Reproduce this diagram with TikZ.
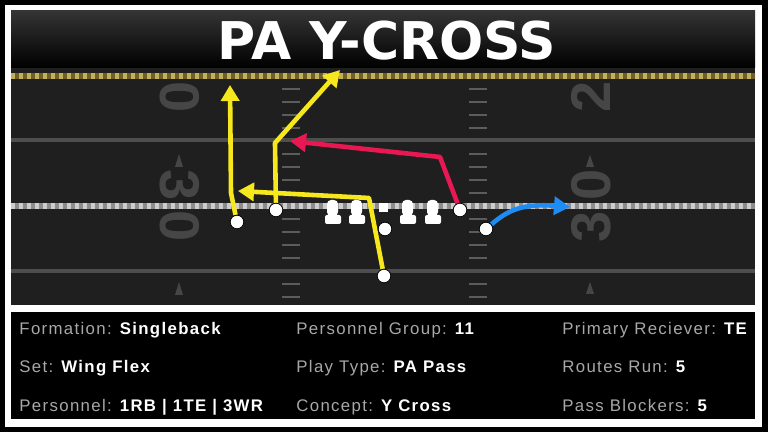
\documentclass[tikz,border=0pt]{standalone}
\usepackage{fontspec}
\setmainfont{Liberation Sans}
\newfontfamily\titlefont{DejaVu Sans}
\newfontfamily\infofont[LetterSpace=8]{Liberation Sans}
\usetikzlibrary{
  arrows.meta
}
\pgfdeclarelayer{front}
\pgfsetlayers{main,front}
\definecolor{field gray}{RGB}{31,31,31}
\definecolor{header gray}{RGB}{52,52,52}
\definecolor{line gray}{RGB}{78,78,78}
\definecolor{number gray}{RGB}{70,70,70}
\definecolor{hash gray}{RGB}{92,92,92}
\definecolor{info gray}{RGB}{168,168,168}
\definecolor{route yellow}{RGB}{246,232,28}
\definecolor{route red}{RGB}{234,24,82}
\definecolor{route blue}{RGB}{30,140,242}
\newcommand\infoval[1]{\textcolor{white}{\bfseries #1}}
\tikzset{
%
  % For the receivers' routes.
  route/.style={
    line width=2.3pt,
    line join=round,
    draw=route yellow,
    -{Triangle[length=8pt,
               width=9pt]}},
%
  % For the players.
  player/.style={
    circle,
    fill=white,
    draw=black,
    line width=0.4pt,
    inner sep=0pt,
    minimum size=6.8pt},
%
  % For the yard numbers on the field.
  yard number/.style={
    text=number gray,
    inner sep=0pt,
    font=\bfseries\fontsize{28}{28}\selectfont},
%
  % For the short yard marks.
  hash mark/.style={
    draw=hash gray,
    line width=0.8pt},
%
  % For the texts under the field.
  info/.style={
    anchor=base west,
    inner sep=0pt,
    text=info gray,
    font=\infofont\fontsize{8.4}{10}\selectfont}
}

\begin{document}
\begin{tikzpicture}[x=0.5pt, y=-0.5pt]
  \useasboundingbox (0,0) rectangle (768,432);

  % frame
  \fill[black] (0,0) rectangle (768,432);
  \fill[white] (5,5) rectangle (762,427);
  \fill[field gray] (11,68) rectangle (755,305);
  \shade[top color=header gray, bottom color=black] (11,11) rectangle (755,68);
  \fill[black] (11,312) rectangle (755,419);

  % field lines
  \draw[line width=3pt, draw={rgb,255:red,110;green,96;blue,40}] (11,76) -- (755,76);
  \draw[line width=3pt, draw={rgb,255:red,196;green,176;blue,86},
        dash pattern=on 2pt off 2pt] (11,76) -- (755,76);
  \draw[line width=2pt, line gray] (11,140) -- (755,140);
  \draw[line width=2pt, line gray] (11,271) -- (755,271);
  \draw[line width=3pt, draw={rgb,255:red,140;green,140;blue,140}] (11,206) -- (755,206);
  \draw[line width=3pt, draw={rgb,255:red,205;green,205;blue,205},
        dash pattern=on 2pt off 2pt] (11,206) -- (755,206);
  \foreach \y in {89,102,115,128,154,167,180,193,219,232,245,258,284,297} {
    \draw[hash mark] (282,\y) -- (300,\y);
    \draw[hash mark] (469,\y) -- (487,\y);
  }

  % yard numbers
  \node[yard number, rotate=-90] (L0 top) at (180,97) {0};
  \node[yard number, rotate=-90] (L3) at (180,185) {3};
  \node[yard number, rotate=-90] (L0) at (180,226) {0};
  \node[yard number, rotate=90] (R2 top) at (591,97) {2};
  \node[yard number, rotate=90] (R0) at (591,185) {0};
  \node[yard number, rotate=90] (R3) at (591,227) {3};
  \fill[number gray] (179,154) -- (183,167) -- (175,167) -- cycle;
  \fill[number gray] (590,155) -- (594,167) -- (586,167) -- cycle;
  \fill[number gray] (179,282) -- (183,295) -- (175,295) -- cycle;
  \fill[number gray] (590,282) -- (594,294) -- (586,294) -- cycle;

  % title
  \node[anchor=base, text=white, inner sep=0pt,
        font=\titlefont\bfseries\fontsize{26}{26}\selectfont]
    (title) at (387,60) {PA Y-CROSS};

  % line
  \foreach \x in {333,357,408,433} {
    \fill[white, rounded corners=2pt] (\x-6,216) -- (\x-6,200) -- (\x+5,200) -- (\x+5,216) -- cycle;
    \fill[white, rounded corners=1pt] (\x-8,224) rectangle (\x+8,215);
  }
  \fill[white] (379,203) rectangle (388,212);

  % players
  \begin{pgfonlayer}{front}
    \node[player] (X) at (237,222) {};
    \node[player] (slot) at (276,210) {};
    \node[player] (QB) at (385,229) {};
    \node[player] (RB) at (384,276) {};
    \node[player] (TE) at (460,210) {};
    \node[player] (Z) at (486,229) {};
  \end{pgfonlayer}

  % routes
  \coordinate (X stem) at (231,193);
  \coordinate (X end) at (230,85);
  \coordinate (slot break) at (275,143);
  \coordinate (slot end) at (340,70);
  \coordinate (RB break) at (369,198);
  \coordinate (RB end) at (238,191);
  \coordinate (TE break) at (440,157);
  \coordinate (TE end) at (290,141);
  \coordinate (Z end) at (570,207);

  \draw[route] (X) -- (X stem) -- (X end);
  \draw[route] (slot) -- (slot break) -- (slot end);
  \draw[route] (RB) -- (RB break) -- (RB end);
  \draw[route, draw=route red] (TE) -- (TE break) -- (TE end);
  \draw[route, draw=route blue] (Z) .. controls (506,212) and (520,203) .. (Z end);

  % info
  \node[info] (formation) at (19,335) {Formation: \infoval{Singleback}};
  \node[info] (set) at (19,373) {Set: \infoval{Wing Flex}};
  \node[info] (personnel) at (19,412) {Personnel: \infoval{1RB | 1TE | 3WR}};
  \node[info] (group) at (296,335) {Personnel Group: \infoval{11}};
  \node[info] (play type) at (296,373) {Play Type: \infoval{PA Pass}};
  \node[info] (concept) at (296,412) {Concept: \infoval{Y Cross}};
  \node[info] (receiver) at (562,335) {Primary Reciever: \infoval{TE}};
  \node[info] (routes) at (562,373) {Routes Run: \infoval{5}};
  \node[info] (blockers) at (562,412) {Pass Blockers: \infoval{5}};
\end{tikzpicture}
\end{document}
